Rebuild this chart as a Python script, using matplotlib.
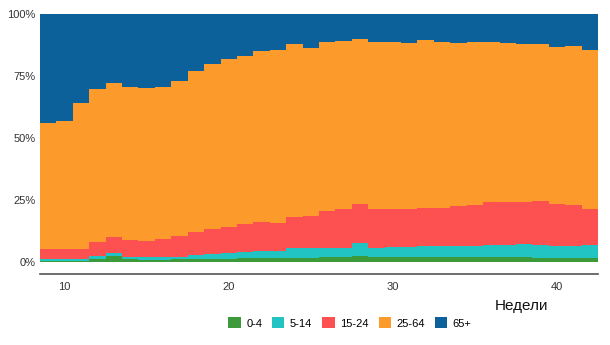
import matplotlib
matplotlib.use("Agg")
import matplotlib.pyplot as plt
import numpy as np
from matplotlib.patches import Patch
from matplotlib.ticker import FuncFormatter

plt.rcParams['font.family'] = ['Liberation Sans', 'DejaVu Sans']

weeks = list(range(9, 43))
age_groups = ["0-4", "5-14", "15-24", "25-64", "65+"]

share_0_4 = [0.4, 0.4, 0.4, 1.0, 2.2, 1.1, 0.8, 0.8, 0.9, 1.1, 1.2, 1.2, 1.3, 1.3, 1.3, 1.4, 1.5,
             1.8, 1.9, 2.3, 1.7, 1.7, 1.7, 1.7, 1.7, 1.7, 1.7, 1.7, 1.7, 1.7, 1.4, 1.4, 1.5, 1.5]
share_5_14 = [0.7, 0.7, 0.7, 1.1, 1.1, 0.9, 1.0, 1.0, 1.0, 1.5, 1.9, 2.4, 2.7, 3.0, 2.9, 4.0, 3.9,
              3.6, 3.8, 5.4, 4.0, 4.2, 4.3, 4.6, 4.7, 4.7, 4.7, 4.9, 5.0, 5.3, 5.3, 4.9, 4.8, 5.1]
share_15_24 = [4.0, 4.0, 4.0, 6.0, 6.6, 6.8, 6.7, 7.5, 8.5, 9.3, 10.1, 10.5, 11.1, 11.7, 11.5, 12.5, 13.1,
               15.2, 15.4, 15.5, 15.4, 15.2, 15.4, 15.2, 15.4, 16.0, 16.5, 17.4, 17.3, 17.0, 17.7, 17.0, 16.5, 14.5]
share_25_64 = [51.0, 51.8, 59.1, 61.5, 62.4, 61.9, 61.7, 61.4, 62.7, 65.2, 66.5, 67.9, 68.1, 68.9, 69.8, 70.0, 67.8,
               68.2, 68.1, 66.7, 67.6, 67.5, 67.0, 68.0, 66.9, 66.0, 65.7, 64.6, 64.3, 64.0, 63.4, 63.5, 64.3, 64.4]
share_65p = [43.9, 43.1, 35.8, 30.4, 27.7, 29.3, 29.8, 29.3, 26.9, 22.9, 20.3, 18.0, 16.8, 15.1, 14.5, 12.1, 13.7,
             11.2, 10.8, 10.1, 11.3, 11.4, 11.6, 10.5, 11.3, 11.6, 11.4, 11.4, 11.7, 12.0, 12.2, 13.2, 12.9, 14.5]

yticks = [0, 25, 50, 75, 100]
xticks = [10, 20, 30, 40]
colors = ["#3c9a3a", "#22c3c3", "#fd5151", "#fd9a2c", "#0c619a"]

series = np.array([share_0_4, share_5_14, share_15_24, share_25_64, share_65p], dtype=float)
series = series / series.sum(axis=0) * 100

w = np.array(weeks, dtype=float)
edges = np.append(w - 0.5, w[-1] + 0.5)
vals = np.concatenate([series, series[:, -1:]], axis=1)

fig = plt.figure(figsize=(6.1, 3.45), dpi=100)
ax = fig.add_axes([40 / 610, 1 - 274 / 345, 558 / 610, 260 / 345])

ax.stackplot(edges, *vals, colors=colors, step='post', linewidth=0)

ax.set_xlim(8.5, 42.5)
ax.set_ylim(-5, 100)
ax.set_yticks(yticks)
ax.yaxis.set_major_formatter(FuncFormatter(lambda v, p: f"{int(v)}%"))
ax.set_xticks(xticks)
ax.tick_params(axis='both', length=0, labelsize=8, colors='#333333')
ax.tick_params(axis='x', pad=5.5)
ax.tick_params(axis='y', pad=3)
for s in ['top', 'right', 'left']:
    ax.spines[s].set_visible(False)
ax.spines['bottom'].set_color('#555555')
ax.spines['bottom'].set_linewidth(1.2)

fig.text(521 / 610, 1 - 306 / 345, "Недели", fontsize=11, ha='center', va='center', color='#111111')

handles = [Patch(facecolor=c, edgecolor='none', label=l) for c, l in zip(colors, age_groups)]
fig.legend(handles=handles, loc='center', bbox_to_anchor=(350 / 610, 1 - 323 / 345), ncol=5,
           frameon=False, fontsize=8, handlelength=1.1, handleheight=1.1,
           handletextpad=0.5, columnspacing=0.9)

fig.savefig("out.png", dpi=100)
